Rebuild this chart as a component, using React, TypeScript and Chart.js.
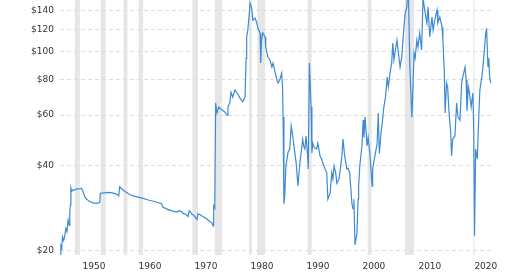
import React, { useEffect, useRef } from "react";
import { Chart, registerables } from "chart.js";

Chart.register(...registerables);

const years: number[] = [
  1946.25, 1946.4, 1946.55, 1946.7, 1946.9, 1947.1, 1947.3, 1947.5, 1947.7, 1947.9,
  1948.0, 1948.1, 1948.2, 1948.35, 1948.6, 1948.9, 1949.3, 1949.7, 1950.1, 1950.4,
  1950.7, 1951.0, 1951.5, 1952.1, 1952.8, 1953.35, 1953.45, 1954.2, 1955.0, 1955.8,
  1956.4, 1956.75, 1956.9, 1957.3, 1957.8, 1958.4, 1959.3, 1960.2, 1961.1, 1962.0,
  1962.9, 1963.7, 1964.4, 1964.6, 1965.5, 1966.4, 1967.1, 1967.5, 1968.0, 1968.2,
  1968.7, 1969.1, 1969.35, 1969.8, 1970.2, 1970.7, 1970.9, 1971.3, 1971.7, 1972.5,
  1973.0, 1973.4, 1973.6, 1973.7, 1973.9, 1974.05, 1974.3, 1974.6, 1975.2, 1975.7,
  1976.1, 1976.25, 1976.6, 1976.8, 1977.1, 1977.5, 1977.9, 1978.4, 1978.9, 1979.3,
  1979.5, 1979.6, 1979.8, 1980.05, 1980.2, 1980.5, 1980.7, 1981.1, 1981.4, 1981.6,
  1982.0, 1982.1, 1982.25, 1982.5, 1982.9, 1983.0, 1983.4, 1983.75, 1984.1, 1984.3,
  1984.6, 1985.0, 1985.2, 1985.5, 1985.85, 1986.0, 1986.1, 1986.25, 1986.4, 1986.6,
  1986.8, 1987.0, 1987.3, 1987.55, 1987.9, 1988.2, 1988.45, 1988.75, 1989.1, 1989.35,
  1989.6, 1989.8, 1990.0, 1990.2, 1990.45, 1990.6, 1990.8, 1991.1, 1991.25, 1991.4,
  1991.7, 1992.1, 1992.3, 1992.7, 1993.0, 1993.2, 1993.6, 1993.9, 1994.1, 1994.5,
  1994.8, 1995.0, 1995.2, 1995.5, 1995.7, 1996.1, 1996.4, 1996.6, 1996.8, 1997.1,
  1997.5, 1997.7, 1998.0, 1998.4, 1998.6, 1998.75, 1998.95, 1999.3, 1999.5, 1999.6,
  1999.8, 2000.2, 2000.4, 2000.55, 2000.75, 2001.1, 2001.3, 2001.6, 2002.0, 2002.1,
  2002.5, 2002.9, 2003.1, 2003.3, 2003.6, 2003.8, 2004.1, 2004.4, 2004.7, 2004.9,
  2005.2, 2005.5, 2005.7, 2005.9, 2006.25, 2006.45, 2006.7, 2007.0, 2007.3, 2007.55,
  2007.9, 2008.2, 2008.45, 2008.75, 2009.1, 2009.3, 2009.5, 2009.7, 2010.0, 2010.2,
  2010.5, 2010.85, 2011.1, 2011.4, 2011.8, 2012.0, 2012.3, 2012.7, 2012.9, 2013.2,
  2013.6, 2013.75, 2014.1, 2014.5, 2014.65, 2014.9, 2015.05, 2015.3, 2015.5, 2015.75,
  2016.05, 2016.2, 2016.4, 2016.8, 2017.1, 2017.35, 2017.7, 2018.0, 2018.2, 2018.6,
  2018.8, 2018.95, 2019.2, 2019.4, 2019.7, 2020.0, 2020.15, 2020.3, 2020.5, 2020.8,
  2021.0, 2021.25, 2021.6, 2021.8, 2022.1, 2022.3, 2022.45, 2022.7, 2022.85, 2023.0,
  2023.2,
];

const prices: number[] = [
  19.5, 20.8, 20.4, 22.4, 21.8, 22.6, 24.0, 23.4, 25.7, 24.6,
  27.4, 29.0, 33.3, 32.4, 32.8, 32.7, 33.1, 33.0, 33.2, 32.2,
  30.9, 30.4, 29.9, 29.5, 29.4, 29.6, 31.9, 32.0, 32.1, 31.9,
  31.6, 31.2, 33.6, 33.0, 32.4, 31.8, 31.2, 30.9, 30.6, 30.2,
  29.9, 29.6, 29.3, 28.5, 28.0, 27.6, 27.4, 27.7, 27.5, 27.1,
  26.9, 26.4, 27.7, 27.0, 26.6, 25.8, 27.0, 26.8, 26.5, 25.9,
  25.4, 25.1, 24.5, 28.8, 28.3, 66.1, 61.0, 64.0, 62.5, 61.5,
  60.0, 64.0, 66.5, 72.2, 69.4, 73.4, 71.7, 68.8, 66.7, 69.4,
  95.0, 112.7, 119.2, 135.0, 148.2, 142.4, 129.2, 131.4, 126.2, 121.1,
  116.4, 91.3, 110.0, 116.4, 112.7, 103.9, 95.8, 93.6, 88.4, 91.3,
  86.0, 79.6, 77.7, 79.6, 84.2, 75.3, 59.0, 29.3, 31.2, 39.7,
  42.0, 44.5, 45.6, 55.0, 49.4, 44.2, 40.5, 33.8, 40.7, 44.5,
  49.4, 46.5, 45.6, 50.6, 44.2, 38.8, 91.3, 64.0, 44.2, 47.8,
  46.0, 45.6, 47.8, 43.1, 42.0, 40.7, 38.8, 37.6, 30.4, 31.9,
  37.6, 35.8, 39.7, 37.6, 34.6, 35.8, 39.7, 43.1, 49.4, 43.1,
  38.8, 39.0, 37.6, 29.3, 28.1, 30.4, 21.0, 23.1, 30.4, 33.8,
  39.7, 47.0, 57.6, 50.0, 59.0, 46.7, 50.0, 44.2, 33.8, 38.8,
  43.1, 47.5, 61.0, 44.0, 52.0, 56.0, 64.0, 69.4, 81.5, 75.3,
  84.2, 91.3, 107.3, 93.6, 103.9, 110.0, 99.0, 88.4, 95.8, 112.7,
  136.7, 143.6, 175.0, 88.4, 59.0, 75.0, 99.0, 95.0, 110.0, 103.9,
  116.4, 101.5, 155.0, 140.0, 126.2, 143.6, 112.7, 132.4, 119.2, 129.2,
  140.0, 126.2, 132.4, 122.0, 110.0, 85.0, 61.0, 77.7, 75.3, 61.0,
  51.9, 43.1, 49.4, 50.6, 66.1, 59.0, 57.6, 77.7, 81.5, 88.4,
  79.6, 62.0, 75.3, 71.7, 64.0, 71.7, 54.5, 22.6, 45.6, 42.0,
  55.0, 73.4, 81.5, 88.4, 103.9, 116.0, 121.0, 88.4, 95.0, 81.5,
  77.7,
];

const yTicks: number[] = [20, 40, 60, 80, 100, 120, 140];
const xTicks: number[] = [1950, 1960, 1970, 1980, 1990, 2000, 2010, 2020];

const recessionStart: number[] = [1948.9, 1953.5, 1957.6, 1960.3, 1969.9, 1973.9, 1980.0, 1981.5, 1990.5, 2001.2, 2007.9, 2020.1];
const recessionEnd: number[] = [1949.8, 1954.4, 1958.3, 1961.1, 1970.9, 1975.2, 1980.5, 1982.9, 1991.2, 2001.9, 2009.5, 2020.3];

const recessionPlugin = {
  id: "recessions",
  beforeDraw(chart: any) {
    const { ctx, chartArea, scales } = chart;
    const x = scales.x;
    ctx.save();
    ctx.fillStyle = "#e6e6e6";
    for (let i = 0; i < recessionStart.length; i++) {
      const x0 = x.getPixelForValue(recessionStart[i]);
      const x1 = x.getPixelForValue(recessionEnd[i]);
      ctx.fillRect(x0, chartArea.top, Math.max(1, x1 - x0), chartArea.bottom - chartArea.top);
    }
    ctx.restore();
  },
};

export default function App() {
  const canvasRef = useRef<HTMLCanvasElement | null>(null);

  useEffect(() => {
    if (!canvasRef.current) return;
    const data = years.map((yr, i) => ({ x: yr, y: prices[i] }));
    const font = { family: "'DejaVu Sans', Verdana, sans-serif", size: 9 };
    const chart = new Chart(canvasRef.current, {
      type: "line",
      data: {
        datasets: [
          {
            data,
            borderColor: "#3f8ad4",
            borderWidth: 1.2,
            pointRadius: 0,
            tension: 0,
            fill: false,
          },
        ],
      },
      options: {
        animation: false,
        responsive: false,
        parsing: true,
        layout: { padding: { top: 0, right: 27, bottom: 0, left: 0 } },
        plugins: { legend: { display: false }, tooltip: { enabled: false } },
        scales: {
          x: {
            type: "linear",
            min: 1946.25,
            max: 2023.6,
            grid: { display: false, drawTicks: false },
            border: { display: false },
            afterBuildTicks: (s: any) => {
              s.ticks = xTicks.map((v) => ({ value: v }));
            },
            afterFit: (s: any) => {
              s.height = 17;
              s.paddingLeft = 0;
              s.paddingRight = 0;
            },
            ticks: {
              color: "#333",
              font,
              padding: 6,
              labelOffset: 13,
              maxRotation: 0,
              autoSkip: false,
              callback: (v: any) => String(v),
            },
          },
          y: {
            type: "logarithmic",
            min: 19.36,
            max: 152,
            grid: { color: "#dddddd", drawTicks: false, lineWidth: 1 },
            border: { display: false, dash: [4, 3] },
            afterBuildTicks: (s: any) => {
              s.ticks = yTicks.map((v) => ({ value: v }));
            },
            afterFit: (s: any) => {
              s.width = 60;
              s.paddingTop = 0;
              s.paddingBottom = 0;
            },
            ticks: {
              color: "#333",
              font,
              padding: 6,
              autoSkip: false,
              callback: (v: any) => "$" + v,
            },
          },
        },
      },
      plugins: [recessionPlugin],
    });
    return () => chart.destroy();
  }, []);

  return (
    <div style={{ position: "fixed", left: 0, top: 0, width: 520, height: 272, background: "#fff" }}>
      <canvas ref={canvasRef} width={520} height={272} />
    </div>
  );
}
